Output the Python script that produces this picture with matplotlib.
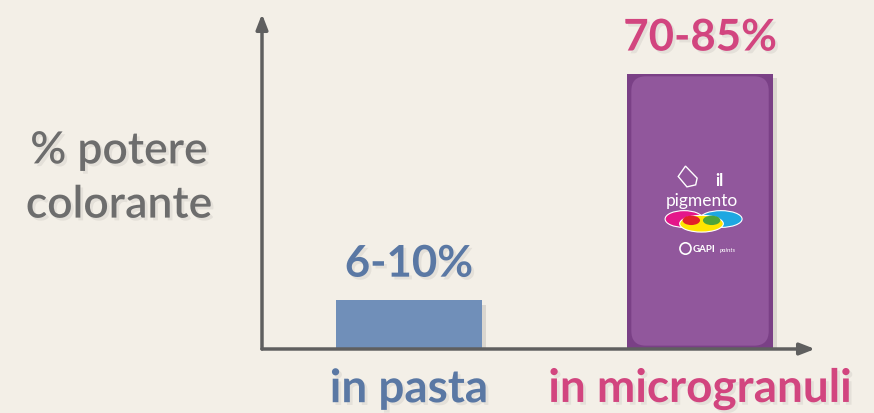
import matplotlib
matplotlib.use("Agg")
import matplotlib.pyplot as plt
from matplotlib.patches import FancyBboxPatch, Ellipse, Polygon
import matplotlib.patheffects as pe


categories = ["in pasta", "in microgranuli"]
value_labels = ["6-10%", "70-85%"]
bar_heights = [14.5, 82]
y_label = "% potere\ncolorante"

BG = "#f3efe7"
BLUE_BAR = "#708fb9"
BLUE_TEXT = "#5a78a4"
PINK = "#d2457f"
PURPLE_OUT = "#7a4086"
PURPLE_IN = "#91579c"
AXIS = "#5f5f5f"
GREY_TEXT = "#6d6d6d"

plt.rcParams["font.family"] = ["Lato", "DejaVu Sans"]

fig = plt.figure(figsize=(8.74, 4.14), dpi=100, facecolor=BG)
W, H = 874, 414
ax = fig.add_axes([262 / W, 1 - 350 / H, (815 - 262) / W, (350 - 15) / H])
ax.set_facecolor("none")
ax.set_xlim(-0.505, 1.395)
ax.set_ylim(0, 100)
ax.axis("off")

shadow = [pe.SimplePatchShadow(offset=(3, -3), alpha=0.10, shadow_rgbFace="#000000"), pe.Normal()]
text_shadow = [pe.withSimplePatchShadow(offset=(2, -2), alpha=0.06, shadow_rgbFace="#000000")]

xs = [0, 1]
bars = ax.bar(xs, bar_heights, width=0.5, color=[BLUE_BAR, PURPLE_OUT], zorder=2)
for b in bars:
    b.set_path_effects(shadow)

# inner rounded panel of the purple bar
b = bars[1]
x0, w, h = b.get_x(), b.get_width(), b.get_height()
inner = FancyBboxPatch((x0 + 0.014, 1.0), w - 0.028, h - 1.6,
                       boxstyle="round,pad=0,rounding_size=0.05",
                       mutation_aspect=87.0, fc=PURPLE_IN, ec="none", zorder=3)
ax.add_patch(inner)

# logo inside the purple bar
cx = 1.0
ax.add_patch(Ellipse((cx - 0.055, 38.8), 0.13, 5.0, fc="#e4168a", ec="white", lw=0.8, zorder=4))
ax.add_patch(Ellipse((cx + 0.072, 38.8), 0.145, 5.0, fc="#1ea7e1", ec="white", lw=0.8, zorder=4))
ax.add_patch(Ellipse((cx + 0.005, 37.4), 0.15, 5.0, fc="#ffe500", ec="white", lw=0.8, zorder=4))
ax.add_patch(Ellipse((cx - 0.03, 38.4), 0.06, 2.8, fc="#e3202a", ec="none", zorder=5))
ax.add_patch(Ellipse((cx + 0.04, 38.4), 0.06, 2.8, fc="#4ea43a", ec="none", zorder=5))
ax.text(cx + 0.065, 49.0, "il", color="white", fontsize=12, fontweight="bold",
        ha="center", va="baseline", zorder=5)
ax.text(cx + 0.005, 42.9, "pigmento", color="white", fontsize=12.5,
        ha="center", va="baseline", zorder=5)
ax.add_patch(Polygon([(cx - 0.075, 51.5), (cx - 0.05, 54.6), (cx - 0.01, 51.0),
                      (cx - 0.015, 49.0), (cx - 0.045, 48.4)],
                     closed=True, fc="none", ec="white", lw=1.0, zorder=5))
ax.add_patch(Ellipse((cx - 0.05, 30.0), 0.038, 3.4, fc="none", ec="white", lw=1.2, zorder=5))
ax.text(cx - 0.025, 29.9, "GAPI", color="white", fontsize=7, fontweight="bold",
        ha="left", va="center", zorder=5)
ax.text(cx + 0.07, 29.7, "paints", color="white", fontsize=4.5, style="italic",
        ha="left", va="center", zorder=5)

# axes with arrows
arrow = dict(arrowstyle="-|>,head_length=0.9,head_width=0.35", color=AXIS, lw=2.5,
             shrinkA=0, shrinkB=0)
ax.annotate("", xy=(0, 1.0), xytext=(0, 0), xycoords="axes fraction", arrowprops=arrow, zorder=6)
ax.annotate("", xy=(1.0, 0), xytext=(0, 0), xycoords="axes fraction", arrowprops=arrow, zorder=6)

# value labels above the bars
label_colors = [BLUE_TEXT, PINK]
for x, hgt, lab, col in zip(xs, bar_heights, value_labels, label_colors):
    ax.text(x, hgt + 5, lab, color=col, fontsize=31.5, fontweight="bold",
            ha="center", va="bottom", path_effects=text_shadow, zorder=6)

# category labels under the axis
for x, cat, col in zip(xs, categories, label_colors):
    ax.text(x, -12, cat, color=col, fontsize=33, fontweight="bold",
            ha="center", va="center", path_effects=text_shadow, zorder=6)

fig.text(119 / W, 1 - 179 / H, y_label, color=GREY_TEXT, fontsize=32,
         fontweight="semibold", ha="center", va="center", linespacing=1.4,
         path_effects=text_shadow)

fig.savefig("out.png", dpi=100, facecolor=BG)
